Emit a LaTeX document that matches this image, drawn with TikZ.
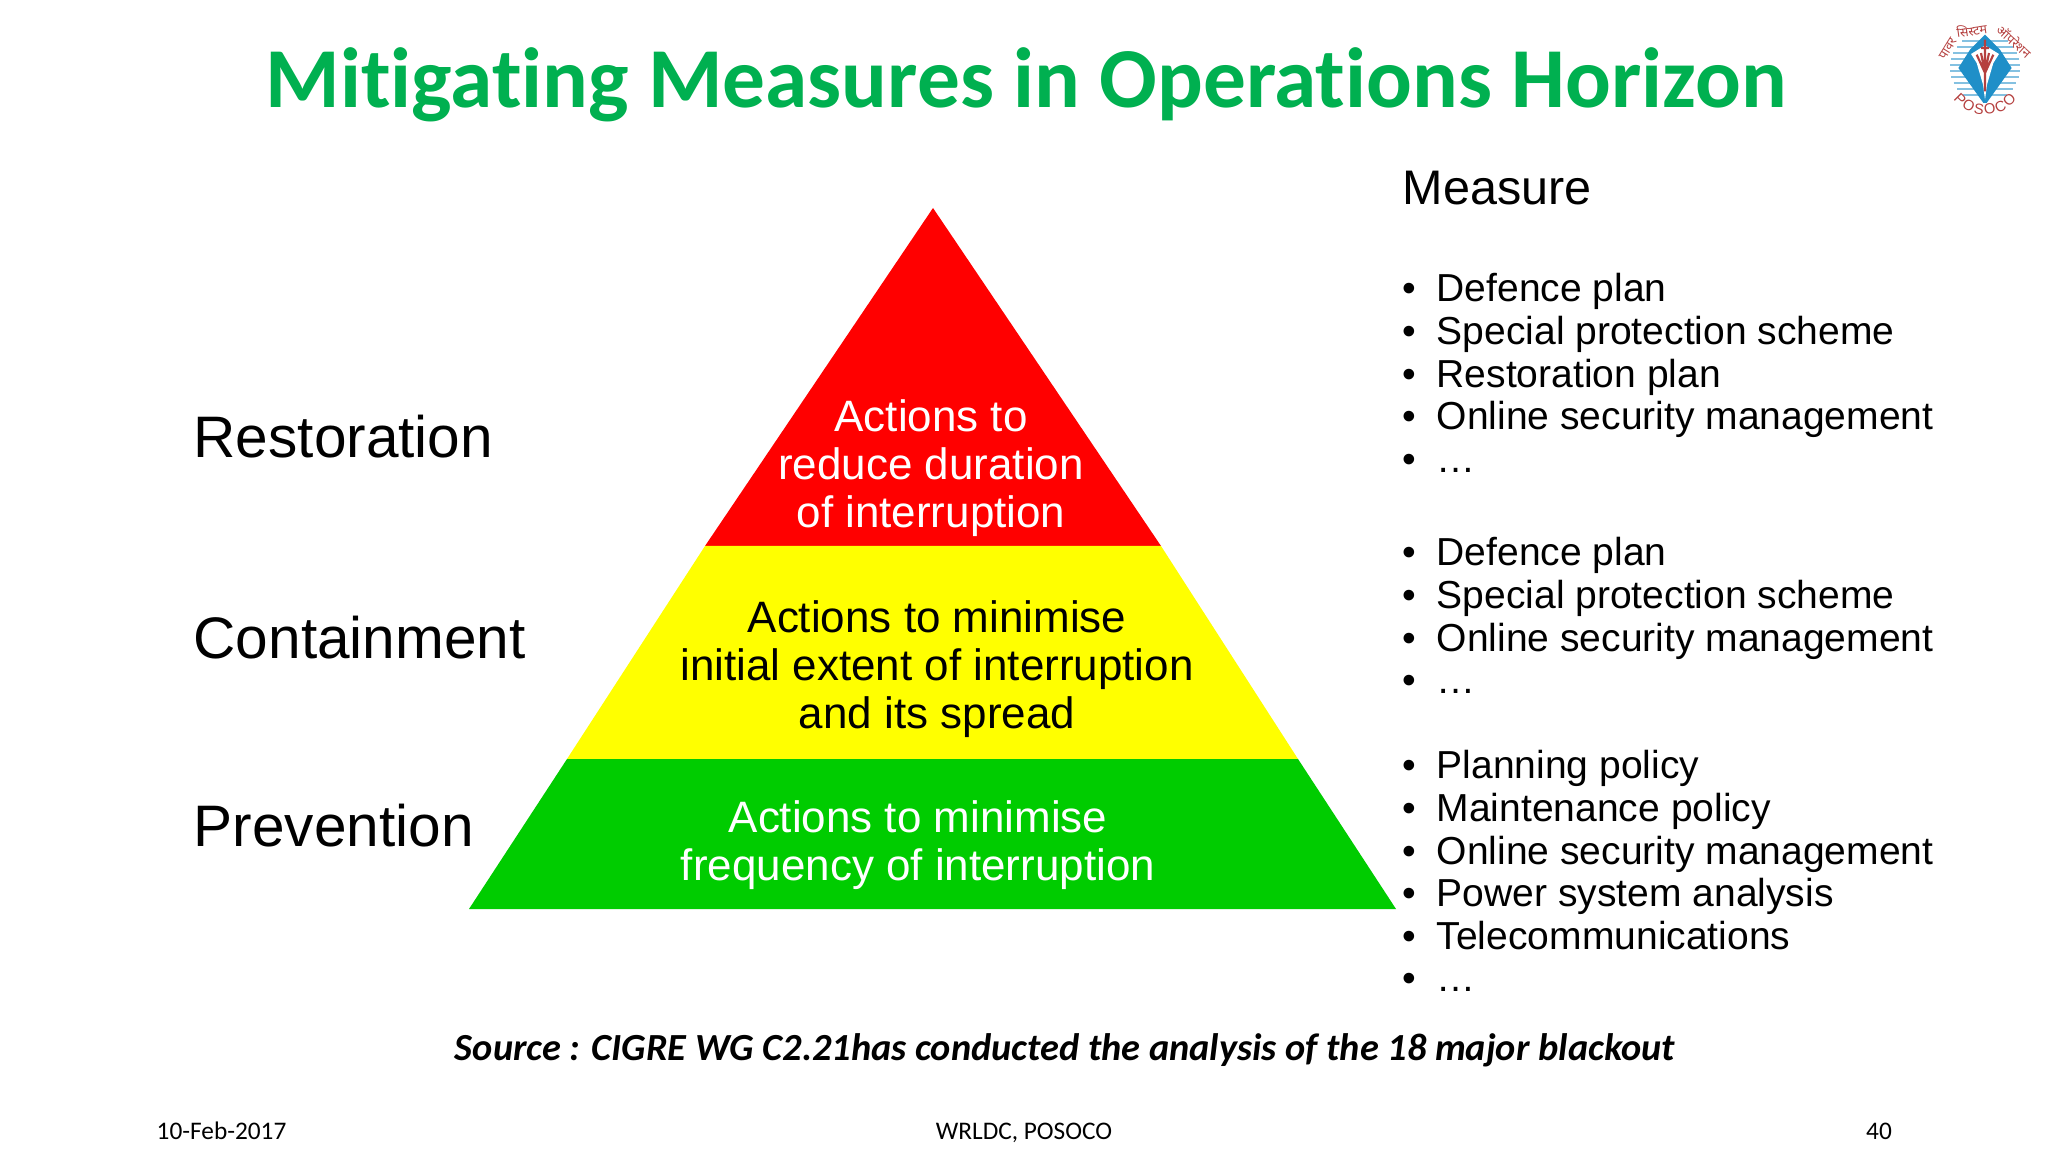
\documentclass[tikz,border=0pt]{standalone}
\usepackage{fontspec}
\setmainfont{Liberation Sans}
\newfontfamily\calibrifont[Ligatures=NoCommon]{Carlito}
\newfontfamily\hindifont[Script=Devanagari]{Noto Sans}
\usetikzlibrary{positioning, decorations.text}
\definecolor{titlegreen}{HTML}{00B050}
\definecolor{pyrred}{HTML}{FF0000}
\definecolor{pyryellow}{HTML}{FFFF00}
\definecolor{pyrgreen}{HTML}{00CC00}
\definecolor{logoblue}{HTML}{1F8FC8}
\definecolor{logored}{HTML}{B5403F}
\newlength{\pxlen}
\setlength{\pxlen}{0.01cm}
\newcommand{\itm}[1]{\makebox[34\pxlen][l]{\textbullet}#1}

\begin{document}
\begin{tikzpicture}[
        x=0.01cm, y=-0.01cm,
        title/.style={font=\calibrifont\bfseries\fontsize{24.27}{28}\selectfont, text=titlegreen},
        level/.style={anchor=base west, inner sep=0pt, font=\fontsize{16.65}{19}\selectfont},
        band/.style={align=center, inner sep=0pt, font=\fontsize{12.5}{13.57}\selectfont},
        list/.style={anchor=north west, inner sep=0pt, align=left, font=\fontsize{11.1}{12.09}\selectfont},
        foot/.style={anchor=base, inner sep=0pt, font=\calibrifont\fontsize{7.2}{9}\selectfont},
        hindi/.style={inner sep=0pt, text=logored, font=\hindifont\fontsize{3.6}{4}\selectfont}
    ]
        \useasboundingbox (0,0) rectangle (2048,1152);
        \fill[white] (0,0) rectangle (2048,1152);

        \node[title] (title) at (1026,85) {Mitigating Measures in Operations Horizon};

        % pyramid
        \fill[pyrred] (933,208) -- (1161,546) -- (705,546) -- cycle;
        \fill[pyryellow] (705,546) -- (1161,546) -- (1298,759) -- (567,759) -- cycle;
        \fill[pyrgreen] (567,759) -- (1298,759) -- (1396,909) -- (469,909) -- cycle;

        \node[band, text=white] (restore) at (931,468) {Actions to\\reduce duration\\of interruption};
        \node[band] (contain) at (937,669) {Actions to minimise\\initial extent of interruption\\and its spread};
        \node[band, text=white] (prevent) at (918,845) {Actions to minimise\\frequency of interruption};

        \node[level] (lrestore) at (193,458) {Restoration};
        \node[level] (lcontain) at (193,658) {Containment};
        \node[level] (lprevent) at (193,846) {Prevention};

        % measures
        \node[anchor=base west, inner sep=0pt, font=\fontsize{13.8}{16}\selectfont] (measure) at (1402,205) {Measure};
        \node[list] (m1) at (1402,273) {\itm{Defence plan}\\\itm{Special protection scheme}\\\itm{Restoration plan}\\\itm{Online security management}\\\itm{\ldots}};
        \node[list] (m2) at (1402,537) {\itm{Defence plan}\\\itm{Special protection scheme}\\\itm{Online security management}\\\itm{\ldots}};
        \node[list] (m3) at (1402,750) {\itm{Planning policy}\\\itm{Maintenance policy}\\\itm{Online security management}\\\itm{Power system analysis}\\\itm{Telecommunications}\\\itm{\ldots}};

        \node[inner sep=0pt, font=\calibrifont\bfseries\itshape\fontsize{10.9}{13}\selectfont] (source) at (1065,1050) {Source : CIGRE WG C2.21has conducted the analysis of the 18 major blackout};

        \node[foot, anchor=base west] (date) at (156,1139) {10-Feb-2017};
        \node[foot] (org) at (1024,1139) {WRLDC, POSOCO};
        \node[foot] (page) at (1879,1139) {40};

        % logo
        \begin{scope}[shift={(1985,68)}, x=0.00333cm, y=-0.00333cm]
            \foreach \yy in {-80,-62,...,90}
                \draw[logoblue!55, line width=0.5pt] ({-sqrt(105*105-\yy*\yy)},\yy) -- ({sqrt(105*105-\yy*\yy)},\yy);
            \fill[logoblue] (0,-100) -- (-45,-55) -- (-80,0) -- (-5,105) -- (5,105) -- (80,0) -- (45,-55) -- cycle;
            \fill[white] (-42,-42) -- (0,-68) -- (42,-42) -- (25,-15) -- (6,50) -- (0,95) -- (-6,50) -- (-25,-15) -- cycle;
            \draw[logored, line width=0.6pt] (0,-85) -- (0,70) (-25,-40) -- (0,15) -- (25,-40) (-12,-45) -- (0,15) -- (12,-45) (-12,-60) -- (12,-60);
            \node[hindi, rotate=58] (hpawar) at (-112,-58) {पावर};
            \node[hindi, rotate=8] (hsystem) at (-40,-114) {सिस्टम};
            \node[hindi, rotate=-42] (hoper) at (88,-80) {ऑपरेशन};
            \path[decorate, decoration={text along path, text color=logored, text align={fit to path},
                text={|\fontsize{4.2}{5}\selectfont|POSOCO}}]
                (-95,95) .. controls (-50,155) and (50,155) .. (95,95);
        \end{scope}
    \end{tikzpicture}
\end{document}
